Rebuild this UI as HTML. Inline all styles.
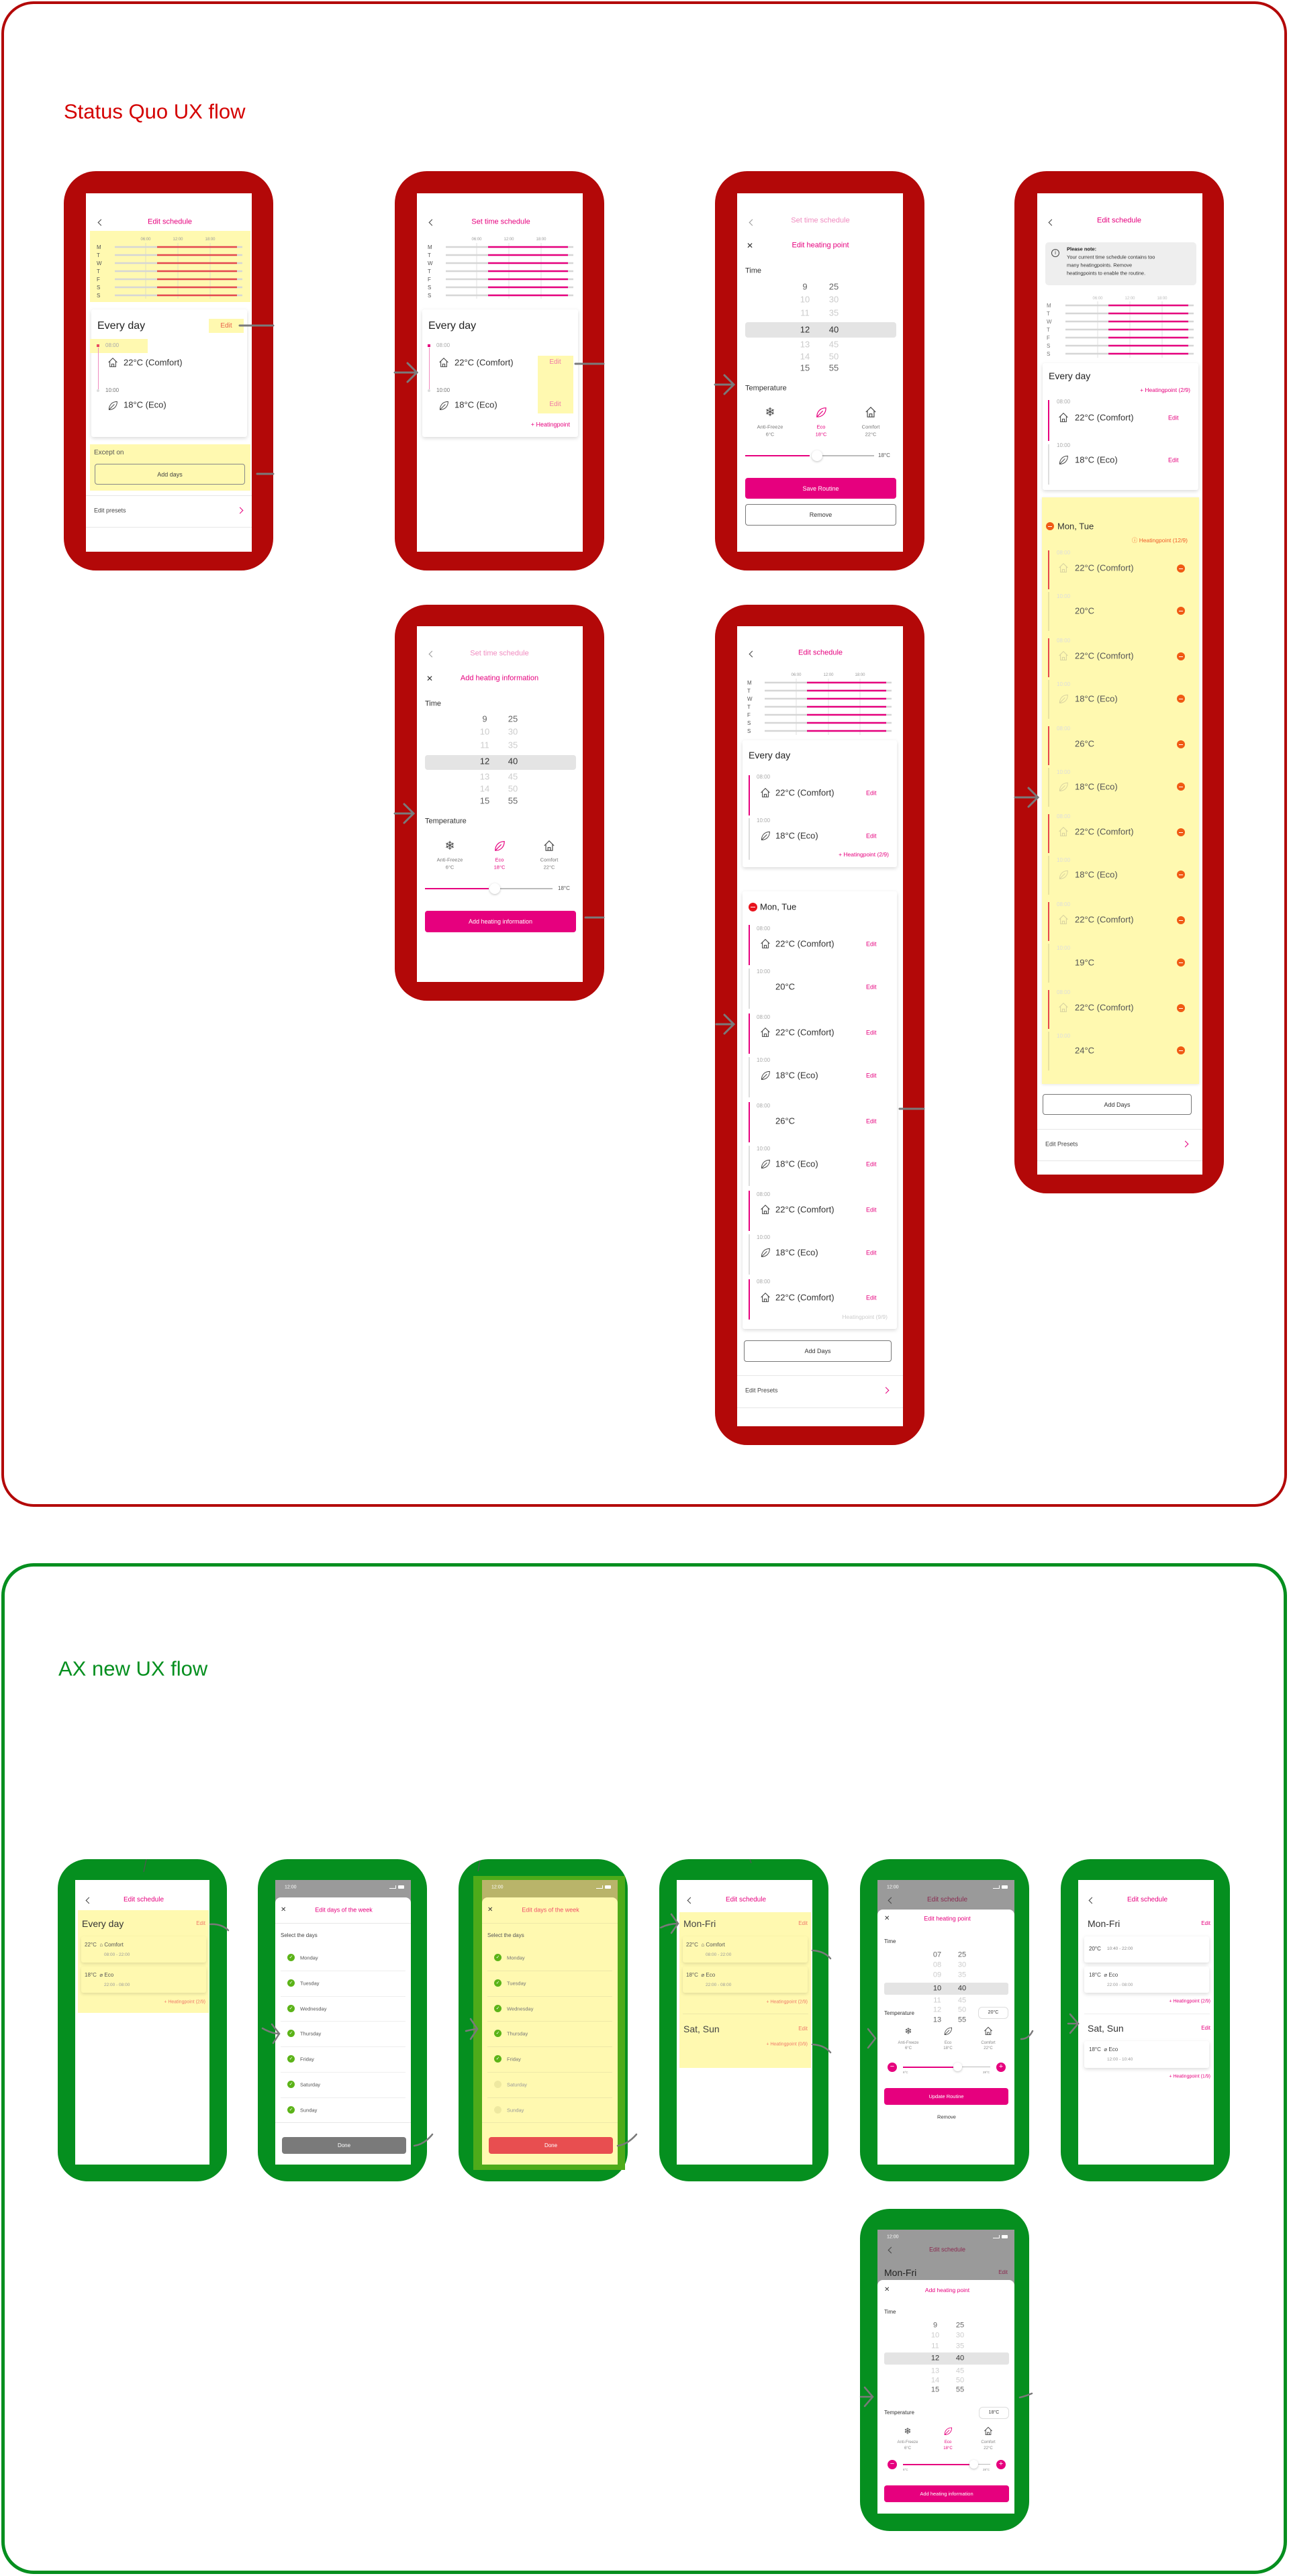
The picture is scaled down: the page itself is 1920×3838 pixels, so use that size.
<!DOCTYPE html>
<html><head><meta charset="utf-8">
<style>
*{margin:0;padding:0;box-sizing:border-box}
body{width:1920px;height:3838px;position:relative;background:#fff;font-family:"Liberation Sans",sans-serif;overflow:hidden}
.ab{position:absolute}
.frame{position:absolute;border-radius:48px}
.ph{position:absolute;background:#b30808;border-radius:48px}
.gp{position:absolute;background:#058f1f;border-radius:44px;width:252px;height:480px}
.sc{position:absolute;background:#fff;overflow:hidden}
.t{position:absolute;white-space:nowrap;line-height:1;transform:translateY(-50%)}
.c{transform:translate(-50%,-50%)}
.r{transform:translate(-100%,-50%)}
.pk{color:#e6007e}
.lp{color:#f08cc0}
.gr{color:#aaa}
.chev{position:absolute;width:7px;height:7px;border-left:1.3px solid #444;border-bottom:1.3px solid #444;transform:rotate(45deg)}
.chevr{position:absolute;width:7px;height:7px;border-right:1.3px solid #e6007e;border-top:1.3px solid #e6007e;transform:rotate(45deg)}
.x{position:absolute;font-size:12px;line-height:1;color:#333;transform:translateY(-50%)}
.card{position:absolute;background:#fff;box-shadow:0 2px 6px rgba(0,0,0,.15);border-radius:3px}
.ycard{position:absolute;background:#fff9b0;box-shadow:0 2px 5px rgba(0,0,0,.12);border-radius:3px}
.yel{position:absolute;background:#fff9b0}
.btn{position:absolute;border-radius:4px;display:flex;align-items:center;justify-content:center;font-size:9px}
.div{position:absolute;left:0;right:0;height:1px;background:#e6e6e6}
.bar{position:absolute;width:2px}
.ic{position:absolute;width:14px;height:14px}
.ck{position:absolute;width:11px;height:11px;border-radius:50%;background:#5bb318;color:#fff;font-size:7px;line-height:11px;text-align:center}
.ck0{position:absolute;width:11px;height:11px;border-radius:50%;background:#eee8a0}
.mn{position:absolute;width:12px;height:12px;border-radius:50%;background:#f05a14}
.mn::after{content:"";position:absolute;left:3px;right:3px;top:5.5px;height:1px;background:#fff}
</style></head><body>
<svg width="0" height="0" style="position:absolute">
<defs>
<symbol id="house" viewBox="0 0 20 20"><path d="M2 10 L10 2 L18 10 M4.5 8 V18 H15.5 V8 M8 18 V13 H12 V18" fill="none" stroke="#444" stroke-width="1.3"/></symbol>
<symbol id="houseP" viewBox="0 0 20 20"><path d="M2 10 L10 2 L18 10 M4.5 8 V18 H15.5 V8 M8 18 V13 H12 V18" fill="none" stroke="#d8d2a0" stroke-width="1.3"/></symbol>
<symbol id="leaf" viewBox="0 0 20 20"><path d="M3 18 C3 9 9 3 18 3 C18 12 12 18 3 18 Z M3 18 L13 8" fill="none" stroke="#444" stroke-width="1.2"/></symbol>
<symbol id="leafP" viewBox="0 0 20 20"><path d="M3 18 C3 9 9 3 18 3 C18 12 12 18 3 18 Z M3 18 L13 8" fill="none" stroke="#e6007e" stroke-width="1.3"/></symbol>
<symbol id="leafY" viewBox="0 0 20 20"><path d="M3 18 C3 9 9 3 18 3 C18 12 12 18 3 18 Z M3 18 L13 8" fill="none" stroke="#d8d2a0" stroke-width="1.2"/></symbol>
</defs></svg>

<!-- FRAMES -->
<div class="frame" style="left:2px;top:2px;width:1915px;height:2243px;border:4px solid #b30808"></div>
<div class="t" style="left:95px;top:166px;font-size:31px;color:#d40000">Status Quo UX flow</div>
<div class="frame" style="left:2px;top:2329px;width:1915px;height:1506px;border:5px solid #058f1f"></div>
<div class="t" style="left:87px;top:2486px;font-size:31px;color:#058f1f">AX new UX flow</div>

<!-- P1 -->
<div class="ph" style="left:95px;top:255px;width:312px;height:595px"></div>
<div class="sc" style="left:128px;top:288px;width:247px;height:534px">
 <div class="chev" style="left:19px;top:40px"></div>
 <div class="t c pk" style="left:125px;top:43px;font-size:11px">Edit schedule</div>
 <div class="yel" style="left:6px;top:56px;width:239px;height:106px"></div>
 <svg class="ab" style="left:0;top:0" width="247" height="170">
  <g font-size="6" fill="#999" text-anchor="middle" font-family="Liberation Sans"><text x="89" y="70">06:00</text><text x="137" y="70">12:00</text><text x="185" y="70">18:00</text></g>
  <g stroke="#ccc" stroke-width="0.6"><line x1="89" y1="74" x2="89" y2="157"/><line x1="137" y1="74" x2="137" y2="157"/><line x1="185" y1="74" x2="185" y2="157"/></g>
  <g font-size="8" fill="#555" font-family="Liberation Sans"><text x="16" y="83">M</text><text x="16" y="95">T</text><text x="16" y="107">W</text><text x="16" y="119">T</text><text x="16" y="131">F</text><text x="16" y="143">S</text><text x="16" y="155">S</text></g>
  <g stroke="#d6d6d6" stroke-width="2.5"><line x1="43" y1="80" x2="233" y2="80"/><line x1="43" y1="92" x2="233" y2="92"/><line x1="43" y1="104" x2="233" y2="104"/><line x1="43" y1="116" x2="233" y2="116"/><line x1="43" y1="128" x2="233" y2="128"/><line x1="43" y1="140" x2="233" y2="140"/><line x1="43" y1="152" x2="233" y2="152"/></g>
  <g stroke="#e5484d" stroke-width="2.5"><line x1="106" y1="80" x2="225" y2="80"/><line x1="106" y1="92" x2="225" y2="92"/><line x1="106" y1="104" x2="225" y2="104"/><line x1="106" y1="116" x2="225" y2="116"/><line x1="106" y1="128" x2="225" y2="128"/><line x1="106" y1="140" x2="225" y2="140"/><line x1="106" y1="152" x2="225" y2="152"/></g>
 </svg>
 <div class="card" style="left:8px;top:173px;width:232px;height:190px"></div>
 <div class="yel" style="left:183px;top:187px;width:52px;height:21px"></div>
 <div class="t c" style="left:209px;top:198px;font-size:10px;color:#e8604c">Edit</div>
 <div class="t" style="left:17px;top:198px;font-size:16px;color:#222">Every day</div>
 <div class="yel" style="left:6px;top:217px;width:86px;height:21px"></div>
 <div class="ab" style="left:16px;top:225px;width:4px;height:4px;background:#e84a5f"></div>
 <div class="t gr" style="left:29px;top:227px;font-size:8px">08:00</div>
 <div class="bar" style="left:17.5px;top:230px;width:1px;height:62px;background:#f08cc0"></div>
 <svg class="ic" style="left:32px;top:244px;width:16px;height:16px"><use href="#house"/></svg>
 <div class="t" style="left:56px;top:252px;font-size:13px;color:#333">22°C (Comfort)</div>
 <div class="ab" style="left:16px;top:292px;width:4px;height:4px;border-radius:50%;background:#ddd"></div>
 <div class="t" style="left:29px;top:294px;font-size:8px;color:#777">10:00</div>
 <svg class="ic" style="left:32px;top:308px;width:16px;height:16px"><use href="#leaf"/></svg>
 <div class="t" style="left:56px;top:315px;font-size:13px;color:#333">18°C (Eco)</div>
 <div class="yel" style="left:6px;top:374px;width:239px;height:69px"></div>
 <div class="t" style="left:12px;top:387px;font-size:10px;color:#555">Except on</div>
 <div class="btn" style="left:13px;top:403px;width:224px;height:31px;border:1px solid #888;background:#fff9b0;color:#444">Add days</div>
 <div class="div" style="top:450px"></div>
 <div class="t" style="left:12px;top:473px;font-size:9px;color:#444">Edit presets</div>
 <div class="chevr" style="left:226px;top:469px"></div>
 <div class="div" style="top:497px"></div>
</div>

<!-- P2 -->
<div class="ph" style="left:588px;top:255px;width:312px;height:595px"></div>
<div class="sc" style="left:621px;top:288px;width:247px;height:534px">
 <div class="chev" style="left:19px;top:40px"></div>
 <div class="t c pk" style="left:125px;top:43px;font-size:11px">Set time schedule</div>
 <svg class="ab" style="left:0;top:0" width="247" height="170">
  <g font-size="6" fill="#999" text-anchor="middle" font-family="Liberation Sans"><text x="89" y="70">06:00</text><text x="137" y="70">12:00</text><text x="185" y="70">18:00</text></g>
  <g stroke="#ccc" stroke-width="0.6"><line x1="89" y1="74" x2="89" y2="157"/><line x1="137" y1="74" x2="137" y2="157"/><line x1="185" y1="74" x2="185" y2="157"/></g>
  <g font-size="8" fill="#555" font-family="Liberation Sans"><text x="16" y="83">M</text><text x="16" y="95">T</text><text x="16" y="107">W</text><text x="16" y="119">T</text><text x="16" y="131">F</text><text x="16" y="143">S</text><text x="16" y="155">S</text></g>
  <g stroke="#d6d6d6" stroke-width="2.5"><line x1="43" y1="80" x2="233" y2="80"/><line x1="43" y1="92" x2="233" y2="92"/><line x1="43" y1="104" x2="233" y2="104"/><line x1="43" y1="116" x2="233" y2="116"/><line x1="43" y1="128" x2="233" y2="128"/><line x1="43" y1="140" x2="233" y2="140"/><line x1="43" y1="152" x2="233" y2="152"/></g>
  <g stroke="#e6007e" stroke-width="2.5"><line x1="106" y1="80" x2="225" y2="80"/><line x1="106" y1="92" x2="225" y2="92"/><line x1="106" y1="104" x2="225" y2="104"/><line x1="106" y1="116" x2="225" y2="116"/><line x1="106" y1="128" x2="225" y2="128"/><line x1="106" y1="140" x2="225" y2="140"/><line x1="106" y1="152" x2="225" y2="152"/></g>
 </svg>
 <div class="card" style="left:8px;top:173px;width:232px;height:190px"></div>
 <div class="t" style="left:17px;top:198px;font-size:16px;color:#222">Every day</div>
 <div class="ab" style="left:16px;top:225px;width:4px;height:4px;background:#e6007e"></div>
 <div class="t gr" style="left:29px;top:227px;font-size:8px">08:00</div>
 <div class="bar" style="left:17.5px;top:230px;width:1px;height:62px;background:#f08cc0"></div>
 <svg class="ic" style="left:32px;top:244px;width:16px;height:16px"><use href="#house"/></svg>
 <div class="t" style="left:56px;top:252px;font-size:13px;color:#333">22°C (Comfort)</div>
 <div class="ab" style="left:16px;top:292px;width:4px;height:4px;border-radius:50%;background:#ddd"></div>
 <div class="t" style="left:29px;top:294px;font-size:8px;color:#777">10:00</div>
 <svg class="ic" style="left:32px;top:308px;width:16px;height:16px"><use href="#leaf"/></svg>
 <div class="t" style="left:56px;top:315px;font-size:13px;color:#333">18°C (Eco)</div>
 <div class="yel" style="left:180px;top:242px;width:53px;height:86px"></div>
 <div class="t c" style="left:206px;top:252px;font-size:10px;color:#f07aa8">Edit</div>
 <div class="t c" style="left:206px;top:315px;font-size:10px;color:#f07aa8">Edit</div>
 <div class="t r pk" style="left:228px;top:345px;font-size:9px">+ Heatingpoint</div>
</div>

<!-- P3 -->
<div class="ph" style="left:1065px;top:255px;width:312px;height:595px"></div>
<div class="sc" style="left:1098px;top:288px;width:247px;height:534px">
 <div class="chev" style="left:19px;top:40px;border-color:#999"></div>
 <div class="t c lp" style="left:124px;top:41px;font-size:11px">Set time schedule</div>
 <div class="x" style="left:14px;top:78px">✕</div>
 <div class="t c pk" style="left:124px;top:78px;font-size:11px">Edit heating point</div>
 <div class="t" style="left:12px;top:116px;font-size:11px;color:#333">Time</div>
 <div class="yel" style="left:12px;top:192px;width:225px;height:23px;background:#e4e4e4;border-radius:4px"></div>
 <div class="t c" style="left:101px;top:139px;font-size:13px;color:#666">9</div><div class="t c" style="left:144px;top:139px;font-size:13px;color:#666">25</div>
 <div class="t c" style="left:101px;top:158px;font-size:13px;color:#ccc">10</div><div class="t c" style="left:144px;top:158px;font-size:13px;color:#ccc">30</div>
 <div class="t c" style="left:101px;top:178px;font-size:13px;color:#ccc">11</div><div class="t c" style="left:144px;top:178px;font-size:13px;color:#ccc">35</div>
 <div class="t c" style="left:101px;top:203px;font-size:13px;color:#333">12</div><div class="t c" style="left:144px;top:203px;font-size:13px;color:#333">40</div>
 <div class="t c" style="left:101px;top:225px;font-size:13px;color:#ccc">13</div><div class="t c" style="left:144px;top:225px;font-size:13px;color:#ccc">45</div>
 <div class="t c" style="left:101px;top:243px;font-size:13px;color:#ccc">14</div><div class="t c" style="left:144px;top:243px;font-size:13px;color:#ccc">50</div>
 <div class="t c" style="left:101px;top:260px;font-size:13px;color:#666">15</div><div class="t c" style="left:144px;top:260px;font-size:13px;color:#666">55</div>
 <div class="t" style="left:12px;top:291px;font-size:11px;color:#333">Temperature</div>
 <div class="t c" style="left:49px;top:326px;font-size:18px;color:#444">❄</div>
 <svg class="ab" style="left:116px;top:317px" width="18" height="18"><use href="#leafP"/></svg>
 <svg class="ab" style="left:190px;top:317px" width="18" height="18"><use href="#house"/></svg>
 <div class="t c" style="left:49px;top:348px;font-size:7.5px;color:#777">Anti-Freeze</div><div class="t c" style="left:49px;top:359px;font-size:7.5px;color:#777">6°C</div>
 <div class="t c pk" style="left:125px;top:348px;font-size:7.5px">Eco</div><div class="t c pk" style="left:125px;top:359px;font-size:7.5px">18°C</div>
 <div class="t c" style="left:199px;top:348px;font-size:7.5px;color:#777">Comfort</div><div class="t c" style="left:199px;top:359px;font-size:7.5px;color:#777">22°C</div>
 <div class="ab" style="left:12px;top:390px;width:96px;height:2px;background:#e6007e"></div>
 <div class="ab" style="left:125px;top:390px;width:79px;height:2px;background:#bbb"></div>
 <div class="ab" style="left:111px;top:383px;width:16px;height:16px;border-radius:50%;background:#fff;box-shadow:0 1px 3px rgba(0,0,0,.25)"></div>
 <div class="t" style="left:210px;top:391px;font-size:8px;color:#555">18°C</div>
 <div class="btn" style="left:12px;top:424px;width:225px;height:31px;background:#e6007e;color:#fff">Save Routine</div>
 <div class="btn" style="left:12px;top:463px;width:225px;height:32px;border:1px solid #777;color:#333">Remove</div>
</div>

<!-- P5 -->
<div class="ph" style="left:588px;top:901px;width:312px;height:590px"></div>
<div class="sc" style="left:621px;top:933px;width:247px;height:530px">
 <div class="chev" style="left:19px;top:38px;border-color:#999"></div>
 <div class="t c lp" style="left:123px;top:41px;font-size:11px">Set time schedule</div>
 <div class="x" style="left:14px;top:78px">✕</div>
 <div class="t c pk" style="left:123px;top:78px;font-size:11px">Add heating information</div>
 <div class="t" style="left:12px;top:116px;font-size:11px;color:#333">Time</div>
 <div class="yel" style="left:12px;top:192px;width:225px;height:22px;background:#e4e4e4;border-radius:4px"></div>
 <div class="t c" style="left:101px;top:138px;font-size:13px;color:#666">9</div><div class="t c" style="left:143px;top:138px;font-size:13px;color:#666">25</div>
 <div class="t c" style="left:101px;top:157px;font-size:13px;color:#ccc">10</div><div class="t c" style="left:143px;top:157px;font-size:13px;color:#ccc">30</div>
 <div class="t c" style="left:101px;top:177px;font-size:13px;color:#ccc">11</div><div class="t c" style="left:143px;top:177px;font-size:13px;color:#ccc">35</div>
 <div class="t c" style="left:101px;top:201px;font-size:13px;color:#333">12</div><div class="t c" style="left:143px;top:201px;font-size:13px;color:#333">40</div>
 <div class="t c" style="left:101px;top:224px;font-size:13px;color:#ccc">13</div><div class="t c" style="left:143px;top:224px;font-size:13px;color:#ccc">45</div>
 <div class="t c" style="left:101px;top:242px;font-size:13px;color:#ccc">14</div><div class="t c" style="left:143px;top:242px;font-size:13px;color:#ccc">50</div>
 <div class="t c" style="left:101px;top:260px;font-size:13px;color:#666">15</div><div class="t c" style="left:143px;top:260px;font-size:13px;color:#666">55</div>
 <div class="t" style="left:12px;top:291px;font-size:11px;color:#333">Temperature</div>
 <div class="t c" style="left:49px;top:327px;font-size:18px;color:#444">❄</div>
 <svg class="ab" style="left:114px;top:318px" width="18" height="18"><use href="#leafP"/></svg>
 <svg class="ab" style="left:188px;top:318px" width="18" height="18"><use href="#house"/></svg>
 <div class="t c" style="left:49px;top:348px;font-size:7.5px;color:#777">Anti-Freeze</div><div class="t c" style="left:49px;top:359px;font-size:7.5px;color:#777">6°C</div>
 <div class="t c pk" style="left:123px;top:348px;font-size:7.5px">Eco</div><div class="t c pk" style="left:123px;top:359px;font-size:7.5px">18°C</div>
 <div class="t c" style="left:197px;top:348px;font-size:7.5px;color:#777">Comfort</div><div class="t c" style="left:197px;top:359px;font-size:7.5px;color:#777">22°C</div>
 <div class="ab" style="left:12px;top:390px;width:95px;height:2px;background:#e6007e"></div>
 <div class="ab" style="left:122px;top:390px;width:80px;height:2px;background:#bbb"></div>
 <div class="ab" style="left:108px;top:383px;width:16px;height:16px;border-radius:50%;background:#fff;box-shadow:0 1px 3px rgba(0,0,0,.25)"></div>
 <div class="t" style="left:210px;top:391px;font-size:8px;color:#555">18°C</div>
 <div class="btn" style="left:12px;top:424px;width:225px;height:32px;background:#e6007e;color:#fff">Add heating information</div>
</div>

<!-- P6 -->
<div class="ph" style="left:1065px;top:901px;width:312px;height:1252px"></div>
<div class="sc" style="left:1098px;top:933px;width:247px;height:1192px">
 <div class="chev" style="left:19px;top:38px"></div>
 <div class="t c pk" style="left:124px;top:40px;font-size:11px">Edit schedule</div>
 <svg class="ab" style="left:0;top:0" width="247" height="170">
  <g font-size="6" fill="#999" text-anchor="middle" font-family="Liberation Sans"><text x="88" y="74">06:00</text><text x="136" y="74">12:00</text><text x="183" y="74">18:00</text></g>
  <g stroke="#ccc" stroke-width="0.6"><line x1="88" y1="78" x2="88" y2="162"/><line x1="136" y1="78" x2="136" y2="162"/><line x1="183" y1="78" x2="183" y2="162"/></g>
  <g font-size="8" fill="#555" font-family="Liberation Sans"><text x="15" y="87">M</text><text x="15" y="99">T</text><text x="15" y="111">W</text><text x="15" y="123">T</text><text x="15" y="135">F</text><text x="15" y="147">S</text><text x="15" y="159">S</text></g>
  <g stroke="#d6d6d6" stroke-width="2.5"><line x1="41" y1="84" x2="230" y2="84"/><line x1="41" y1="96" x2="230" y2="96"/><line x1="41" y1="108" x2="230" y2="108"/><line x1="41" y1="120" x2="230" y2="120"/><line x1="41" y1="132" x2="230" y2="132"/><line x1="41" y1="144" x2="230" y2="144"/><line x1="41" y1="156" x2="230" y2="156"/></g>
  <g stroke="#e6007e" stroke-width="2.5"><line x1="104" y1="84" x2="222" y2="84"/><line x1="104" y1="96" x2="222" y2="96"/><line x1="104" y1="108" x2="222" y2="108"/><line x1="104" y1="120" x2="222" y2="120"/><line x1="104" y1="132" x2="222" y2="132"/><line x1="104" y1="144" x2="222" y2="144"/><line x1="104" y1="156" x2="222" y2="156"/></g>
 </svg>
 <div class="card" style="left:8px;top:170px;width:230px;height:189px"></div>
 <div class="t" style="left:17px;top:192px;font-size:14px;color:#222">Every day</div>
 <div class="bar" style="left:17px;top:222px;height:60px;background:#e6007e"></div>
 <div class="t gr" style="left:29px;top:225px;font-size:8px">08:00</div>
 <svg class="ab" style="left:34px;top:240px" width="16" height="16"><use href="#house"/></svg>
 <div class="t" style="left:57px;top:248px;font-size:13px;color:#333">22°C (Comfort)</div>
 <div class="t pk" style="left:192px;top:249px;font-size:9px">Edit</div>
 <div class="bar" style="left:17px;top:286px;height:62px;background:#ddd"></div>
 <div class="t gr" style="left:29px;top:290px;font-size:8px">10:00</div>
 <svg class="ab" style="left:34px;top:304px" width="16" height="16"><use href="#leaf"/></svg>
 <div class="t" style="left:57px;top:312px;font-size:13px;color:#333">18°C (Eco)</div>
 <div class="t pk" style="left:192px;top:313px;font-size:9px">Edit</div>
 <div class="t r pk" style="left:226px;top:340px;font-size:8.5px">+ Heatingpoint (2/9)</div>

 <div class="card" style="left:8px;top:395px;width:230px;height:652px"></div>
 <div class="ab" style="left:17px;top:412px;width:13px;height:13px;border-radius:50%;background:#e8141e"></div>
 <div class="ab" style="left:20px;top:418px;width:7px;height:1.3px;background:#fff"></div>
 <div class="t" style="left:34px;top:418px;font-size:13px;color:#222">Mon, Tue</div>
 <!-- pairs, base 451 step 132 -->
 <div class="bar" style="left:17px;top:445px;height:60px;background:#e6007e"></div><div class="t gr" style="left:29px;top:451px;font-size:8px">08:00</div><svg class="ab" style="left:34px;top:465px" width="16" height="16"><use href="#house"/></svg><div class="t" style="left:57px;top:473px;font-size:13px;color:#333">22°C (Comfort)</div><div class="t pk" style="left:192px;top:474px;font-size:9px">Edit</div>
 <div class="bar" style="left:17px;top:510px;height:60px;background:#ddd"></div><div class="t gr" style="left:29px;top:515px;font-size:8px">10:00</div><div class="t" style="left:57px;top:537px;font-size:13px;color:#333">20°C</div><div class="t pk" style="left:192px;top:538px;font-size:9px">Edit</div>
 <div class="bar" style="left:17px;top:577px;height:60px;background:#e6007e"></div><div class="t gr" style="left:29px;top:583px;font-size:8px">08:00</div><svg class="ab" style="left:34px;top:597px" width="16" height="16"><use href="#house"/></svg><div class="t" style="left:57px;top:605px;font-size:13px;color:#333">22°C (Comfort)</div><div class="t pk" style="left:192px;top:606px;font-size:9px">Edit</div>
 <div class="bar" style="left:17px;top:642px;height:60px;background:#ddd"></div><div class="t gr" style="left:29px;top:647px;font-size:8px">10:00</div><svg class="ab" style="left:34px;top:661px" width="16" height="16"><use href="#leaf"/></svg><div class="t" style="left:57px;top:669px;font-size:13px;color:#333">18°C (Eco)</div><div class="t pk" style="left:192px;top:670px;font-size:9px">Edit</div>
 <div class="bar" style="left:17px;top:709px;height:60px;background:#e6007e"></div><div class="t gr" style="left:29px;top:715px;font-size:8px">08:00</div><div class="t" style="left:57px;top:737px;font-size:13px;color:#333">26°C</div><div class="t pk" style="left:192px;top:738px;font-size:9px">Edit</div>
 <div class="bar" style="left:17px;top:774px;height:60px;background:#ddd"></div><div class="t gr" style="left:29px;top:779px;font-size:8px">10:00</div><svg class="ab" style="left:34px;top:793px" width="16" height="16"><use href="#leaf"/></svg><div class="t" style="left:57px;top:801px;font-size:13px;color:#333">18°C (Eco)</div><div class="t pk" style="left:192px;top:802px;font-size:9px">Edit</div>
 <div class="bar" style="left:17px;top:841px;height:60px;background:#e6007e"></div><div class="t gr" style="left:29px;top:847px;font-size:8px">08:00</div><svg class="ab" style="left:34px;top:861px" width="16" height="16"><use href="#house"/></svg><div class="t" style="left:57px;top:869px;font-size:13px;color:#333">22°C (Comfort)</div><div class="t pk" style="left:192px;top:870px;font-size:9px">Edit</div>
 <div class="bar" style="left:17px;top:906px;height:60px;background:#ddd"></div><div class="t gr" style="left:29px;top:911px;font-size:8px">10:00</div><svg class="ab" style="left:34px;top:925px" width="16" height="16"><use href="#leaf"/></svg><div class="t" style="left:57px;top:933px;font-size:13px;color:#333">18°C (Eco)</div><div class="t pk" style="left:192px;top:934px;font-size:9px">Edit</div>
 <div class="bar" style="left:17px;top:973px;height:60px;background:#e6007e"></div><div class="t gr" style="left:29px;top:977px;font-size:8px">08:00</div><svg class="ab" style="left:34px;top:992px" width="16" height="16"><use href="#house"/></svg><div class="t" style="left:57px;top:1000px;font-size:13px;color:#333">22°C (Comfort)</div><div class="t pk" style="left:192px;top:1001px;font-size:9px">Edit</div>
 <div class="t r" style="left:224px;top:1029px;font-size:8.5px;color:#ccc">Heatingpoint (9/9)</div>
 <div class="btn" style="left:10px;top:1064px;width:220px;height:32px;border:1px solid #777;color:#333">Add Days</div>
 <div class="div" style="top:1116px"></div>
 <div class="t" style="left:12px;top:1139px;font-size:9px;color:#444">Edit Presets</div>
 <div class="chevr" style="left:218px;top:1135px"></div>
 <div class="div" style="top:1164px"></div>
</div>

<!-- P4 -->
<div class="ph" style="left:1511px;top:255px;width:312px;height:1523px"></div>
<div class="sc" style="left:1545px;top:288px;width:246px;height:1462px">
 <div class="chev" style="left:18px;top:40px"></div>
 <div class="t c pk" style="left:122px;top:41px;font-size:11px">Edit schedule</div>
 <div class="ab" style="left:12px;top:73px;width:225px;height:64px;background:#eee;border-radius:5px"></div>
 <div class="ab" style="left:21px;top:83px;width:12px;height:12px;border-radius:50%;border:1px solid #444;font-size:8px;line-height:10px;text-align:center;color:#444">i</div>
 <div class="t" style="left:44px;top:83px;font-size:7.5px;color:#222;font-weight:bold">Please note:</div>
 <div class="t" style="left:44px;top:95px;font-size:7.5px;color:#333">Your current time schedule contains too</div>
 <div class="t" style="left:44px;top:107px;font-size:7.5px;color:#333">many heatingpoints. Remove</div>
 <div class="t" style="left:44px;top:119px;font-size:7.5px;color:#333">heatingpoints to enable the routine.</div>
 <svg class="ab" style="left:0;top:0" width="246" height="250">
  <g font-size="6" fill="#bbb" text-anchor="middle" font-family="Liberation Sans"><text x="90" y="158">06:00</text><text x="138" y="158">12:00</text><text x="186" y="158">18:00</text></g>
  <g stroke="#ccc" stroke-width="0.6"><line x1="90" y1="161" x2="90" y2="245"/><line x1="138" y1="161" x2="138" y2="245"/><line x1="186" y1="161" x2="186" y2="245"/></g>
  <g font-size="8" fill="#777" font-family="Liberation Sans"><text x="14" y="170">M</text><text x="14" y="182">T</text><text x="14" y="194">W</text><text x="14" y="206">T</text><text x="14" y="218">F</text><text x="14" y="230">S</text><text x="14" y="242">S</text></g>
  <g stroke="#d6d6d6" stroke-width="2.5"><line x1="42" y1="167" x2="233" y2="167"/><line x1="42" y1="179" x2="233" y2="179"/><line x1="42" y1="191" x2="233" y2="191"/><line x1="42" y1="203" x2="233" y2="203"/><line x1="42" y1="215" x2="233" y2="215"/><line x1="42" y1="227" x2="233" y2="227"/><line x1="42" y1="239" x2="233" y2="239"/></g>
  <g stroke="#e6007e" stroke-width="2.5"><line x1="106" y1="167" x2="225" y2="167"/><line x1="106" y1="179" x2="225" y2="179"/><line x1="106" y1="191" x2="225" y2="191"/><line x1="106" y1="203" x2="225" y2="203"/><line x1="106" y1="215" x2="225" y2="215"/><line x1="106" y1="227" x2="225" y2="227"/><line x1="106" y1="239" x2="225" y2="239"/></g>
 </svg>
 <div class="card" style="left:8px;top:253px;width:232px;height:189px"></div>
 <div class="t" style="left:17px;top:272px;font-size:14px;color:#222">Every day</div>
 <div class="t r pk" style="left:228px;top:293px;font-size:8.5px">+ Heatingpoint (2/9)</div>
 <div class="bar" style="left:16px;top:308px;height:61px;background:#e6007e"></div>
 <div class="t gr" style="left:29px;top:311px;font-size:8px">08:00</div>
 <svg class="ab" style="left:31px;top:326px" width="16" height="16"><use href="#house"/></svg>
 <div class="t" style="left:56px;top:334px;font-size:13px;color:#333">22°C (Comfort)</div>
 <div class="t pk" style="left:195px;top:335px;font-size:9px">Edit</div>
 <div class="bar" style="left:16px;top:374px;height:60px;background:#ddd"></div>
 <div class="t gr" style="left:29px;top:376px;font-size:8px">10:00</div>
 <svg class="ab" style="left:31px;top:389px" width="16" height="16"><use href="#leaf"/></svg>
 <div class="t" style="left:56px;top:397px;font-size:13px;color:#333">18°C (Eco)</div>
 <div class="t pk" style="left:195px;top:398px;font-size:9px">Edit</div>

 <div class="yel" style="left:7px;top:453px;width:234px;height:874px;box-shadow:0 1px 4px rgba(0,0,0,.1)"></div>
 <div class="mn" style="left:13px;top:490px"></div>
 <div class="t" style="left:30px;top:496px;font-size:13px;color:#333">Mon, Tue</div>
 <div class="t r" style="left:224px;top:517px;font-size:8.5px;color:#f05a28">ⓘ Heatingpoint (12/9)</div>
 <!-- pairs base 536 step 131 -->
 <div class="bar" style="left:16px;top:532px;height:58px;background:#e5484d"></div><div class="t" style="left:29px;top:536px;font-size:8px;color:#ddd">08:00</div><svg class="ab" style="left:31px;top:550px" width="16" height="16"><use href="#houseP"/></svg><div class="t" style="left:56px;top:558px;font-size:13px;color:#555">22°C (Comfort)</div><div class="mn" style="left:208px;top:553px"></div>
 <div class="bar" style="left:16px;top:594px;height:58px;background:#e8e1a0"></div><div class="t" style="left:29px;top:601px;font-size:8px;color:#ddd">10:00</div><div class="t" style="left:56px;top:622px;font-size:13px;color:#555">20°C</div><div class="mn" style="left:208px;top:616px"></div>
 <div class="bar" style="left:16px;top:663px;height:58px;background:#e5484d"></div><div class="t" style="left:29px;top:667px;font-size:8px;color:#ddd">08:00</div><svg class="ab" style="left:31px;top:681px" width="16" height="16"><use href="#houseP"/></svg><div class="t" style="left:56px;top:689px;font-size:13px;color:#555">22°C (Comfort)</div><div class="mn" style="left:208px;top:684px"></div>
 <div class="bar" style="left:16px;top:725px;height:58px;background:#e8e1a0"></div><div class="t" style="left:29px;top:732px;font-size:8px;color:#ddd">10:00</div><svg class="ab" style="left:31px;top:745px" width="16" height="16"><use href="#leafY"/></svg><div class="t" style="left:56px;top:753px;font-size:13px;color:#555">18°C (Eco)</div><div class="mn" style="left:208px;top:747px"></div>
 <div class="bar" style="left:16px;top:794px;height:58px;background:#e5484d"></div><div class="t" style="left:29px;top:798px;font-size:8px;color:#ddd">08:00</div><div class="t" style="left:56px;top:820px;font-size:13px;color:#555">26°C</div><div class="mn" style="left:208px;top:815px"></div>
 <div class="bar" style="left:16px;top:856px;height:58px;background:#e8e1a0"></div><div class="t" style="left:29px;top:863px;font-size:8px;color:#ddd">10:00</div><svg class="ab" style="left:31px;top:876px" width="16" height="16"><use href="#leafY"/></svg><div class="t" style="left:56px;top:884px;font-size:13px;color:#555">18°C (Eco)</div><div class="mn" style="left:208px;top:878px"></div>
 <div class="bar" style="left:16px;top:925px;height:58px;background:#e5484d"></div><div class="t" style="left:29px;top:929px;font-size:8px;color:#ddd">08:00</div><svg class="ab" style="left:31px;top:943px" width="16" height="16"><use href="#houseP"/></svg><div class="t" style="left:56px;top:951px;font-size:13px;color:#555">22°C (Comfort)</div><div class="mn" style="left:208px;top:946px"></div>
 <div class="bar" style="left:16px;top:987px;height:58px;background:#e8e1a0"></div><div class="t" style="left:29px;top:994px;font-size:8px;color:#ddd">10:00</div><svg class="ab" style="left:31px;top:1007px" width="16" height="16"><use href="#leafY"/></svg><div class="t" style="left:56px;top:1015px;font-size:13px;color:#555">18°C (Eco)</div><div class="mn" style="left:208px;top:1009px"></div>
 <div class="bar" style="left:16px;top:1056px;height:58px;background:#e5484d"></div><div class="t" style="left:29px;top:1060px;font-size:8px;color:#ddd">08:00</div><svg class="ab" style="left:31px;top:1074px" width="16" height="16"><use href="#houseP"/></svg><div class="t" style="left:56px;top:1082px;font-size:13px;color:#555">22°C (Comfort)</div><div class="mn" style="left:208px;top:1077px"></div>
 <div class="bar" style="left:16px;top:1118px;height:58px;background:#e8e1a0"></div><div class="t" style="left:29px;top:1125px;font-size:8px;color:#ddd">10:00</div><div class="t" style="left:56px;top:1146px;font-size:13px;color:#555">19°C</div><div class="mn" style="left:208px;top:1140px"></div>
 <div class="bar" style="left:16px;top:1187px;height:58px;background:#e5484d"></div><div class="t" style="left:29px;top:1191px;font-size:8px;color:#ddd">08:00</div><svg class="ab" style="left:31px;top:1205px" width="16" height="16"><use href="#houseP"/></svg><div class="t" style="left:56px;top:1213px;font-size:13px;color:#555">22°C (Comfort)</div><div class="mn" style="left:208px;top:1208px"></div>
 <div class="bar" style="left:16px;top:1249px;height:58px;background:#e8e1a0"></div><div class="t" style="left:29px;top:1256px;font-size:8px;color:#ddd">10:00</div><div class="t" style="left:56px;top:1277px;font-size:13px;color:#555">24°C</div><div class="mn" style="left:208px;top:1271px"></div>
 <div class="btn" style="left:8px;top:1342px;width:222px;height:31px;border:1px solid #777;color:#333">Add Days</div>
 <div class="div" style="top:1394px"></div>
 <div class="t" style="left:12px;top:1417px;font-size:9px;color:#444">Edit Presets</div>
 <div class="chevr" style="left:217px;top:1413px"></div>
 <div class="div" style="top:1441px"></div>
</div>

<!-- ================= GREEN ================= -->
<!-- G1 -->
<div class="gp" style="left:86px;top:2770px"></div>
<div class="sc" style="left:112px;top:2801px;width:200px;height:424px">
 <div class="chev" style="left:17px;top:27px"></div>
 <div class="t c pk" style="left:102px;top:30px;font-size:10px">Edit schedule</div>
 <div class="yel" style="left:4px;top:45px;width:195px;height:153px"></div>
 <div class="t" style="left:10px;top:65px;font-size:14px;color:#333">Every day</div>
 <div class="t r" style="left:194px;top:65px;font-size:8px;color:#f07a6a">Edit</div>
 <div class="ycard" style="left:9px;top:84px;width:186px;height:39px"></div>
 <div class="t" style="left:14px;top:97px;font-size:8px;color:#555">22°C &nbsp;⌂ Comfort</div>
 <div class="t" style="left:43px;top:112px;font-size:6.5px;color:#999">08:00 - 22:00</div>
 <div class="ycard" style="left:9px;top:129px;width:186px;height:39px"></div>
 <div class="t" style="left:14px;top:142px;font-size:8px;color:#555">18°C &nbsp;⌀ Eco</div>
 <div class="t" style="left:43px;top:157px;font-size:6.5px;color:#999">22:00 - 08:00</div>
 <div class="t r" style="left:194px;top:182px;font-size:7px;color:#f07a6a">+ Heatingpoint (2/9)</div>
</div>

<!-- G2 -->
<div class="gp" style="left:384px;top:2770px"></div>
<div class="sc" style="left:410px;top:2801px;width:202px;height:424px">
 <div class="ab" style="left:0;top:0;width:202px;height:40px;background:#9a9a9a"></div>
 <div class="t" style="left:14px;top:11px;font-size:7px;color:#fff">12:00</div>
 <div class="ab" style="left:170px;top:8px;width:10px;height:5px;border-bottom:1px solid #fff;border-right:1px solid #fff"></div>
 <div class="ab" style="left:183px;top:8px;width:9px;height:5px;background:#fff;border-radius:1px"></div>
 <div class="ab" style="left:0;top:26px;width:202px;height:400px;background:#fff;border-radius:8px 8px 0 0"></div>
 <div class="x" style="left:8px;top:45px;font-size:10px">✕</div>
 <div class="t c pk" style="left:102px;top:45px;font-size:9px">Edit days of the week</div>
 <div class="div" style="top:64px"></div>
 <div class="t" style="left:8px;top:83px;font-size:8px;color:#444">Select the days</div>
 <div class="ck" style="left:18px;top:110px">✓</div><div class="t" style="left:37px;top:116px;font-size:7.5px;color:#555">Monday</div><div class="div" style="top:135px;left:8px;right:8px;background:#eee"></div>
 <div class="ck" style="left:18px;top:148px">✓</div><div class="t" style="left:37px;top:154px;font-size:7.5px;color:#555">Tuesday</div><div class="div" style="top:173px;left:8px;right:8px;background:#eee"></div>
 <div class="ck" style="left:18px;top:186px">✓</div><div class="t" style="left:37px;top:192px;font-size:7.5px;color:#555">Wednesday</div><div class="div" style="top:210px;left:8px;right:8px;background:#eee"></div>
 <div class="ck" style="left:18px;top:223px">✓</div><div class="t" style="left:37px;top:229px;font-size:7.5px;color:#555">Thursday</div><div class="div" style="top:248px;left:8px;right:8px;background:#eee"></div>
 <div class="ck" style="left:18px;top:261px">✓</div><div class="t" style="left:37px;top:267px;font-size:7.5px;color:#555">Friday</div><div class="div" style="top:286px;left:8px;right:8px;background:#eee"></div>
 <div class="ck" style="left:18px;top:299px">✓</div><div class="t" style="left:37px;top:305px;font-size:7.5px;color:#555">Saturday</div><div class="div" style="top:324px;left:8px;right:8px;background:#eee"></div>
 <div class="ck" style="left:18px;top:337px">✓</div><div class="t" style="left:37px;top:343px;font-size:7.5px;color:#555">Sunday</div>
 <div class="div" style="top:361px"></div>
 <div class="btn" style="left:10px;top:383px;width:185px;height:25px;background:#7a7a7a;color:#fff;font-size:8px">Done</div>
</div>

<!-- G3 -->
<div class="gp" style="left:683px;top:2770px"></div>
<div class="ab" style="left:705px;top:2795px;width:226px;height:438px;background:#4eab1a"></div>
<div class="sc" style="left:718px;top:2801px;width:202px;height:424px;background:#fff9b0">
 <div class="ab" style="left:0;top:0;width:202px;height:40px;background:#b9b46a"></div>
 <div class="t" style="left:14px;top:11px;font-size:7px;color:#fff">12:00</div>
 <div class="ab" style="left:170px;top:8px;width:10px;height:5px;border-bottom:1px solid #fff;border-right:1px solid #fff"></div>
 <div class="ab" style="left:183px;top:8px;width:9px;height:5px;background:#fff;border-radius:1px"></div>
 <div class="ab" style="left:0;top:26px;width:202px;height:400px;background:#fff9b0;border-radius:8px 8px 0 0"></div>
 <div class="x" style="left:8px;top:45px;font-size:10px">✕</div>
 <div class="t c" style="left:102px;top:45px;font-size:9px;color:#f0506a">Edit days of the week</div>
 <div class="div" style="top:64px;background:#eee8a8"></div>
 <div class="t" style="left:8px;top:83px;font-size:8px;color:#555">Select the days</div>
 <div class="ck" style="left:18px;top:110px">✓</div><div class="t" style="left:37px;top:116px;font-size:7.5px;color:#777">Monday</div><div class="div" style="top:135px;left:8px;right:8px;background:#eee8a8"></div>
 <div class="ck" style="left:18px;top:148px">✓</div><div class="t" style="left:37px;top:154px;font-size:7.5px;color:#777">Tuesday</div><div class="div" style="top:173px;left:8px;right:8px;background:#eee8a8"></div>
 <div class="ck" style="left:18px;top:186px">✓</div><div class="t" style="left:37px;top:192px;font-size:7.5px;color:#777">Wednesday</div><div class="div" style="top:210px;left:8px;right:8px;background:#eee8a8"></div>
 <div class="ck" style="left:18px;top:223px">✓</div><div class="t" style="left:37px;top:229px;font-size:7.5px;color:#777">Thursday</div><div class="div" style="top:248px;left:8px;right:8px;background:#eee8a8"></div>
 <div class="ck" style="left:18px;top:261px">✓</div><div class="t" style="left:37px;top:267px;font-size:7.5px;color:#777">Friday</div><div class="div" style="top:286px;left:8px;right:8px;background:#eee8a8"></div>
 <div class="ck0" style="left:18px;top:299px"></div><div class="t" style="left:37px;top:305px;font-size:7.5px;color:#999">Saturday</div><div class="div" style="top:324px;left:8px;right:8px;background:#eee8a8"></div>
 <div class="ck0" style="left:18px;top:337px"></div><div class="t" style="left:37px;top:343px;font-size:7.5px;color:#999">Sunday</div>
 <div class="div" style="top:361px;background:#eee8a8"></div>
 <div class="btn" style="left:10px;top:383px;width:185px;height:25px;background:#e84e50;color:#fff;font-size:8px">Done</div>
</div>

<!-- G4 -->
<div class="gp" style="left:982px;top:2770px"></div>
<div class="sc" style="left:1008px;top:2801px;width:202px;height:424px">
 <div class="chev" style="left:17px;top:27px"></div>
 <div class="t c pk" style="left:103px;top:30px;font-size:10px">Edit schedule</div>
 <div class="yel" style="left:4px;top:48px;width:196px;height:232px"></div>
 <div class="t" style="left:10px;top:65px;font-size:14px;color:#444">Mon-Fri</div>
 <div class="t r" style="left:195px;top:65px;font-size:8px;color:#f07a6a">Edit</div>
 <div class="ycard" style="left:9px;top:84px;width:186px;height:39px"></div>
 <div class="t" style="left:14px;top:97px;font-size:8px;color:#555">22°C &nbsp;⌂ Comfort</div>
 <div class="t" style="left:43px;top:112px;font-size:6.5px;color:#999">08:00 - 22:00</div>
 <div class="ycard" style="left:9px;top:129px;width:186px;height:39px"></div>
 <div class="t" style="left:14px;top:142px;font-size:8px;color:#555">18°C &nbsp;⌀ Eco</div>
 <div class="t" style="left:43px;top:157px;font-size:6.5px;color:#999">22:00 - 08:00</div>
 <div class="t r" style="left:195px;top:182px;font-size:7px;color:#f07a6a">+ Heatingpoint (2/9)</div>
 <div class="div" style="top:199px;left:9px;right:6px;background:#eee8a8"></div>
 <div class="t" style="left:10px;top:222px;font-size:14px;color:#444">Sat, Sun</div>
 <div class="t r" style="left:195px;top:222px;font-size:8px;color:#f07a6a">Edit</div>
 <div class="t r" style="left:195px;top:245px;font-size:7px;color:#f07a6a">+ Heatingpoint (0/9)</div>
</div>

<!-- G5 -->
<div class="gp" style="left:1281px;top:2770px"></div>
<div class="sc" style="left:1307px;top:2801px;width:204px;height:424px">
 <div class="ab" style="left:0;top:0;width:204px;height:60px;background:#9a9a9a"></div>
 <div class="t" style="left:14px;top:11px;font-size:7px;color:#fff">12:00</div>
 <div class="ab" style="left:172px;top:8px;width:10px;height:5px;border-bottom:1px solid #fff;border-right:1px solid #fff"></div>
 <div class="ab" style="left:185px;top:8px;width:9px;height:5px;background:#fff;border-radius:1px"></div>
 <div class="chev" style="left:17px;top:27px"></div>
 <div class="t c" style="left:104px;top:30px;font-size:10px;color:#8a2a50">Edit schedule</div>
 <div class="ab" style="left:0;top:44px;width:204px;height:380px;background:#fff;border-radius:8px 8px 0 0"></div>
 <div class="x" style="left:10px;top:58px;font-size:10px">✕</div>
 <div class="t c pk" style="left:104px;top:58px;font-size:9px">Edit heating point</div>
 <div class="t" style="left:10px;top:92px;font-size:8px;color:#333">Time</div>
 <div class="ab" style="left:10px;top:153px;width:185px;height:18px;background:#e4e4e4;border-radius:3px"></div>
 <div class="t c" style="left:89px;top:112px;font-size:11px;color:#666">07</div><div class="t c" style="left:126px;top:112px;font-size:11px;color:#666">25</div>
 <div class="t c" style="left:89px;top:127px;font-size:11px;color:#ccc">08</div><div class="t c" style="left:126px;top:127px;font-size:11px;color:#ccc">30</div>
 <div class="t c" style="left:89px;top:142px;font-size:11px;color:#ccc">09</div><div class="t c" style="left:126px;top:142px;font-size:11px;color:#ccc">35</div>
 <div class="t c" style="left:89px;top:162px;font-size:11px;color:#333">10</div><div class="t c" style="left:126px;top:162px;font-size:11px;color:#333">40</div>
 <div class="t c" style="left:89px;top:180px;font-size:11px;color:#ccc">11</div><div class="t c" style="left:126px;top:180px;font-size:11px;color:#ccc">45</div>
 <div class="t c" style="left:89px;top:194px;font-size:11px;color:#ccc">12</div><div class="t c" style="left:126px;top:194px;font-size:11px;color:#ccc">50</div>
 <div class="t c" style="left:89px;top:209px;font-size:11px;color:#666">13</div><div class="t c" style="left:126px;top:209px;font-size:11px;color:#666">55</div>
 <div class="t" style="left:10px;top:199px;font-size:8px;color:#333;top:244px"></div>
 <div class="t" style="left:10px;top:251px;font-size:8px;color:#333"></div>
 <div class="t" style="left:10px;top:243px;font-size:8px;color:#333;display:none"></div>
 <div class="t" style="left:10px;top:243px"></div>
 <div class="t" style="left:10px;top:243px;font-size:8px;color:#333"></div>
 <div class="t" style="left:10px;top:244px;font-size:8px;color:#333;visibility:hidden">x</div>
 <div class="t" style="left:10px;top:244px;font-size:8px;color:#333;top:244px;display:none">x</div>
 <div class="t" style="left:10px;top:244px;display:none"></div>
 <div class="t" style="left:10px;top:244px;font-size:8px;color:#333;display:none"></div>
 <div class="t" style="left:10px;top:244px;font-size:8px;color:#333;display:none"></div>
 <div class="t" style="left:10px;top:244px;display:none"></div>
 <div class="t" style="left:10px;top:244px;display:none"></div>
 <div class="t" style="left:10px;top:244px;display:none"></div>
 <div class="t" style="left:10px;top:244px;display:none"></div>
 <div class="t" style="left:10px;top:244px;display:none"></div>
 <div class="t" style="left:10px;top:244px;display:none"></div>
 <div class="t" style="left:10px;top:244px;display:none"></div>
 <div class="t" style="left:10px;top:244px;display:none"></div>
 <div class="t" style="left:10px;top:244px;display:none"></div>
 <div class="t" style="left:10px;top:244px;display:none"></div>
 <div class="t" style="left:10px;top:244px;display:none"></div>
 <div class="t" style="left:10px;top:244px;display:none"></div>
 <div class="t" style="left:10px;top:244px;display:none"></div>
 <div class="t" style="left:10px;top:244px;display:none"></div>
 <div class="t" style="left:10px;top:244px;display:none"></div>
 <div class="t" style="left:10px;top:244px;display:none"></div>
 <div class="t" style="left:10px;top:199px;font-size:8px;color:#333">Temperature</div>
 <div class="ab" style="left:150px;top:189px;width:45px;height:18px;border:1px solid #ddd;border-radius:6px;font-size:7px;line-height:16px;text-align:center;color:#333">20°C</div>
 <div class="t c" style="left:46px;top:225px;font-size:13px;color:#444">❄</div>
 <svg class="ab" style="left:98px;top:218px" width="14" height="14"><use href="#leaf"/></svg>
 <svg class="ab" style="left:158px;top:218px" width="14" height="14"><use href="#house"/></svg>
 <div class="t c" style="left:46px;top:243px;font-size:6px;color:#888">Anti-Freeze</div><div class="t c" style="left:46px;top:251px;font-size:6px;color:#888">6°C</div>
 <div class="t c" style="left:105px;top:243px;font-size:6px;color:#888">Eco</div><div class="t c" style="left:105px;top:251px;font-size:6px;color:#888">18°C</div>
 <div class="t c" style="left:165px;top:243px;font-size:6px;color:#888">Comfort</div><div class="t c" style="left:165px;top:251px;font-size:6px;color:#888">22°C</div>
 <div class="ab" style="left:15px;top:272px;width:14px;height:14px;border-radius:50%;background:#e6007e;color:#fff;font-size:11px;line-height:13px;text-align:center">−</div>
 <div class="ab" style="left:177px;top:272px;width:14px;height:14px;border-radius:50%;background:#e6007e;color:#fff;font-size:11px;line-height:13px;text-align:center">+</div>
 <div class="ab" style="left:38px;top:278px;width:80px;height:1.5px;background:#e6007e"></div>
 <div class="ab" style="left:126px;top:278px;width:42px;height:1px;background:#bbb"></div>
 <div class="ab" style="left:113px;top:272px;width:13px;height:13px;border-radius:50%;background:#fff;box-shadow:0 1px 3px rgba(0,0,0,.25)"></div>
 <div class="t" style="left:38px;top:287px;font-size:4.5px;color:#888">6°C</div>
 <div class="t" style="left:157px;top:287px;font-size:4.5px;color:#888">28°C</div>
 <div class="btn" style="left:10px;top:310px;width:185px;height:25px;background:#e6007e;color:#fff;font-size:7.5px">Update Routine</div>
 <div class="t c" style="left:103px;top:353px;font-size:7.5px;color:#333">Remove</div>
</div>

<!-- G6 -->
<div class="gp" style="left:1580px;top:2770px"></div>
<div class="sc" style="left:1606px;top:2801px;width:202px;height:424px">
 <div class="chev" style="left:17px;top:27px"></div>
 <div class="t c pk" style="left:103px;top:30px;font-size:10px">Edit schedule</div>
 <div class="t" style="left:14px;top:65px;font-size:14px;color:#333">Mon-Fri</div>
 <div class="t r pk" style="left:197px;top:65px;font-size:8px">Edit</div>
 <div class="card" style="left:9px;top:84px;width:186px;height:39px"></div>
 <div class="t" style="left:16px;top:103px;font-size:8px;color:#333">20°C</div>
 <div class="t" style="left:43px;top:103px;font-size:6.5px;color:#888">10:40 - 22:00</div>
 <div class="card" style="left:9px;top:129px;width:186px;height:39px"></div>
 <div class="t" style="left:16px;top:142px;font-size:8px;color:#444">18°C &nbsp;⌀ Eco</div>
 <div class="t" style="left:43px;top:157px;font-size:6.5px;color:#999">22:00 - 08:00</div>
 <div class="t r pk" style="left:197px;top:181px;font-size:7px">+ Heatingpoint (2/9)</div>
 <div class="div" style="top:199px;left:9px;right:6px;background:#eee"></div>
 <div class="t" style="left:14px;top:221px;font-size:14px;color:#333">Sat, Sun</div>
 <div class="t r pk" style="left:197px;top:221px;font-size:8px">Edit</div>
 <div class="card" style="left:9px;top:240px;width:186px;height:40px"></div>
 <div class="t" style="left:16px;top:253px;font-size:8px;color:#444">18°C &nbsp;⌀ Eco</div>
 <div class="t" style="left:43px;top:268px;font-size:6.5px;color:#999">12:00 - 10:40</div>
 <div class="t r pk" style="left:197px;top:293px;font-size:7px">+ Heatingpoint (1/9)</div>
</div>

<!-- G7 -->
<div class="gp" style="left:1281px;top:3291px"></div>
<div class="sc" style="left:1307px;top:3322px;width:204px;height:423px">
 <div class="ab" style="left:0;top:0;width:204px;height:90px;background:#9a9a9a"></div>
 <div class="t" style="left:14px;top:11px;font-size:7px;color:#fff">12:00</div>
 <div class="ab" style="left:172px;top:8px;width:10px;height:5px;border-bottom:1px solid #fff;border-right:1px solid #fff"></div>
 <div class="ab" style="left:185px;top:8px;width:9px;height:5px;background:#fff;border-radius:1px"></div>
 <div class="chev" style="left:17px;top:27px"></div>
 <div class="t c" style="left:104px;top:30px;font-size:9px;color:#8a2a50">Edit schedule</div>
 <div class="t" style="left:10px;top:64px;font-size:14px;color:#222">Mon-Fri</div>
 <div class="t r" style="left:194px;top:64px;font-size:8px;color:#8a2a50">Edit</div>
 <div class="ab" style="left:0;top:75px;width:204px;height:350px;background:#fff;border-radius:8px 8px 0 0"></div>
 <div class="x" style="left:10px;top:90px;font-size:10px">✕</div>
 <div class="t c pk" style="left:104px;top:90px;font-size:8.5px">Add heating point</div>
 <div class="t" style="left:10px;top:123px;font-size:8px;color:#333">Time</div>
 <div class="ab" style="left:10px;top:183px;width:186px;height:18px;background:#e4e4e4;border-radius:3px"></div>
 <div class="t c" style="left:86px;top:143px;font-size:11px;color:#666">9</div><div class="t c" style="left:123px;top:143px;font-size:11px;color:#666">25</div>
 <div class="t c" style="left:86px;top:158px;font-size:11px;color:#ccc">10</div><div class="t c" style="left:123px;top:158px;font-size:11px;color:#ccc">30</div>
 <div class="t c" style="left:86px;top:174px;font-size:11px;color:#ccc">11</div><div class="t c" style="left:123px;top:174px;font-size:11px;color:#ccc">35</div>
 <div class="t c" style="left:86px;top:192px;font-size:11px;color:#333">12</div><div class="t c" style="left:123px;top:192px;font-size:11px;color:#333">40</div>
 <div class="t c" style="left:86px;top:211px;font-size:11px;color:#ccc">13</div><div class="t c" style="left:123px;top:211px;font-size:11px;color:#ccc">45</div>
 <div class="t c" style="left:86px;top:225px;font-size:11px;color:#ccc">14</div><div class="t c" style="left:123px;top:225px;font-size:11px;color:#ccc">50</div>
 <div class="t c" style="left:86px;top:239px;font-size:11px;color:#666">15</div><div class="t c" style="left:123px;top:239px;font-size:11px;color:#666">55</div>
 <div class="t" style="left:10px;top:273px;font-size:8px;color:#333">Temperature</div>
 <div class="ab" style="left:151px;top:264px;width:45px;height:18px;border:1px solid #ddd;border-radius:6px;font-size:7px;line-height:16px;text-align:center;color:#333">18°C</div>
 <div class="t c" style="left:45px;top:300px;font-size:13px;color:#444">❄</div>
 <svg class="ab" style="left:98px;top:293px" width="14" height="14"><use href="#leafP"/></svg>
 <svg class="ab" style="left:158px;top:293px" width="14" height="14"><use href="#house"/></svg>
 <div class="t c" style="left:45px;top:317px;font-size:6px;color:#888">Anti-Freeze</div><div class="t c" style="left:45px;top:326px;font-size:6px;color:#888">6°C</div>
 <div class="t c pk" style="left:105px;top:317px;font-size:6px">Eco</div><div class="t c pk" style="left:105px;top:326px;font-size:6px">18°C</div>
 <div class="t c" style="left:165px;top:317px;font-size:6px;color:#888">Comfort</div><div class="t c" style="left:165px;top:326px;font-size:6px;color:#888">22°C</div>
 <div class="ab" style="left:15px;top:343px;width:14px;height:14px;border-radius:50%;background:#e6007e;color:#fff;font-size:11px;line-height:13px;text-align:center">−</div>
 <div class="ab" style="left:177px;top:343px;width:14px;height:14px;border-radius:50%;background:#e6007e;color:#fff;font-size:11px;line-height:13px;text-align:center">+</div>
 <div class="ab" style="left:38px;top:349px;width:104px;height:1.5px;background:#e6007e"></div>
 <div class="ab" style="left:150px;top:349px;width:18px;height:1px;background:#bbb"></div>
 <div class="ab" style="left:137px;top:343px;width:13px;height:13px;border-radius:50%;background:#fff;box-shadow:0 1px 3px rgba(0,0,0,.25)"></div>
 <div class="t" style="left:38px;top:358px;font-size:4.5px;color:#888">6°C</div>
 <div class="t" style="left:157px;top:358px;font-size:4.5px;color:#888">28°C</div>
 <div class="btn" style="left:10px;top:381px;width:186px;height:25px;background:#e6007e;color:#fff;font-size:7.5px">Add heating information</div>
</div>

<!-- CONNECTORS -->
<svg class="ab" style="left:0;top:0;z-index:10" width="1920" height="3838">
 <g stroke="#7a7a7a" stroke-width="3" fill="none" stroke-linecap="round">
  <line x1="357" y1="485" x2="407" y2="485"/>
  <line x1="383" y1="706" x2="407" y2="706"/>
  <line x1="588" y1="555" x2="621" y2="555"/><polyline points="607,541 621,555 607,569"/>
  <line x1="857" y1="542" x2="899" y2="542"/>
  <line x1="1065" y1="573" x2="1093" y2="573"/><polyline points="1079,559 1093,573 1079,587"/>
  <line x1="588" y1="1212" x2="616" y2="1212"/><polyline points="602,1198 616,1212 602,1226"/>
  <line x1="872" y1="1367" x2="899" y2="1367"/>
  <line x1="1067" y1="1526" x2="1093" y2="1526"/><polyline points="1079,1512 1093,1526 1079,1540"/>
  <line x1="1340" y1="1652" x2="1376" y2="1652"/>
  <line x1="1512" y1="1188" x2="1546" y2="1188"/><polyline points="1532,1174 1546,1188 1532,1202"/>
 </g>
 <g stroke="#7a7a7a" stroke-width="2.5" fill="none" stroke-linecap="round">
  <path d="M313 2867 Q330 2866 340 2876"/>
  <path d="M391 3022 Q405 3030 416 3030"/><polyline points="405,3016 416,3030 407,3044"/>
  <path d="M617 3197 Q632 3195 644 3180"/>
  <path d="M694 3026 Q702 3024 710 3023"/><polyline points="701,3008 711,3023 701,3038"/>
  <path d="M920 3197 Q935 3195 948 3180"/>
  <path d="M984 2872 Q996 2866 1010 2866"/><polyline points="1000,2852 1010,2866 1000,2880"/>
  <path d="M1210 2906 Q1228 2907 1237 2918"/>
  <path d="M1210 3046 Q1228 3047 1237 3058"/>
  <polyline points="1293,3023 1304,3037 1293,3051"/>
  <path d="M1521 3038 Q1532 3038 1538 3026"/>
  <path d="M1591 3015 L1606 3015"/><polyline points="1594,3001 1606,3015 1594,3029"/>
  <path d="M1282 3571 L1300 3571"/><polyline points="1288,3557 1300,3571 1288,3585"/>
  <path d="M1519 3572 Q1528 3570 1537 3566"/>
 </g>
 <g stroke="#555" stroke-width="1.2" fill="none">
  <path d="M218 2770 L214 2789"/>
  <path d="M715 2772 L712 2788"/>
  <path d="M1117 2770 L1119 2776"/>
 </g>
</svg>
</body></html>
